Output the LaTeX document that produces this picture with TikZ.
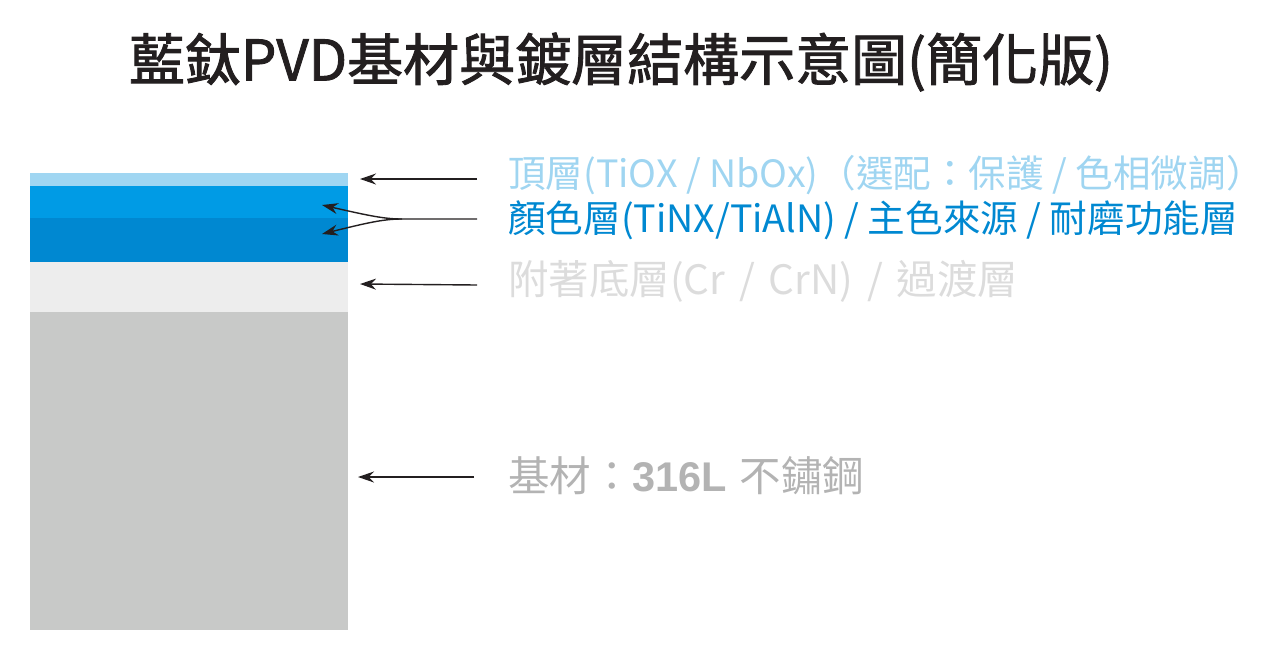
\documentclass[tikz,border=0pt]{standalone}
\usepackage{fontspec}
\newfontfamily\cjk{Noto Sans CJK TC}
\newfontfamily\cjkt[FakeBold=1.6]{Noto Sans CJK TC}
\newfontfamily\arl{Liberation Sans}
\usetikzlibrary{arrows.meta}
\definecolor{ink}{HTML}{231F20}
\definecolor{ltopc}{HTML}{A0D6F2}
\definecolor{lcolA}{HTML}{009BE5}
\definecolor{lcolB}{HTML}{0088D1}
\definecolor{ladh}{HTML}{EDEDED}
\definecolor{lsub}{HTML}{C8C9C8}
\definecolor{ttop}{HTML}{9FD5F1}
\definecolor{tcol}{HTML}{0088D1}
\definecolor{tadh}{HTML}{DCDCDC}
\definecolor{tsub}{HTML}{B3B3B3}
\begin{document}
\begin{tikzpicture}[x=1pt,y=-1pt,
  layer/.style={draw=none,inner sep=0pt,outer sep=0pt,anchor=north west},
  lbl/.style={anchor=west,inner sep=0pt},
  arr/.style={draw=ink,line width=1.4pt,-{Stealth[length=16pt,width=11pt]}}]
\useasboundingbox (0,0) rectangle (1274,665);
% title
\node[font=\cjkt\fontsize{56}{60}\selectfont,text=ink] (title) at (621,62) {藍鈦PVD基材與鍍層結構示意圖(簡化版)};
% layers
\node[layer,fill=lsub,minimum width=318pt,minimum height=318pt] (sub) at (30,312) {};
\node[layer,fill=ladh,minimum width=318pt,minimum height=50pt] (adh) at (30,262) {};
\node[layer,fill=lcolB,minimum width=318pt,minimum height=44pt] (colB) at (30,218) {};
\node[layer,fill=lcolA,minimum width=318pt,minimum height=32pt] (colA) at (30,186) {};
\node[layer,fill=ltopc,minimum width=318pt,minimum height=13pt] (top) at (30,173) {};
% labels
\node[lbl,text=ttop,font=\cjk\fontsize{37.6}{42}\selectfont] (ltop) at (508,175) {頂層(TiOX / NbOx)（選配：保護 / 色相微調）};
\node[lbl,text=tcol,font=\cjk\fontsize{37.6}{42}\selectfont] (lcol) at (508,220) {顏色層(TiNX/TiAlN) / 主色來源 / 耐磨功能層};
\node[lbl,text=tadh,font=\cjk\fontsize{40.5}{44}\selectfont] (ladhn) at (508,281) {附著底層(Cr\hspace{0.34em}/\hspace{0.34em}CrN)\hspace{0.34em}/\hspace{0.34em}過渡層};
\node[lbl,text=tsub,font=\cjk\fontsize{41.5}{45}\selectfont] (lsubn) at (508,476) {基材：{\arl\bfseries 316L}\hspace{0.3em}不鏽鋼};
% arrow anchors
\coordinate (s1) at (477,179);
\coordinate (e1) at (360,179);
\coordinate (s2) at (477,219);
\coordinate (m2) at (402,219);
\coordinate (e2a) at (322,205);
\coordinate (e2b) at (322,234);
\coordinate (s3) at (477,285);
\coordinate (e3) at (360,284);
\coordinate (s4) at (474,477);
\coordinate (e4) at (358,477);
\draw[arr] (s1) -- (e1);
\draw[arr] (s2) -- (m2) .. controls (385,219) and (370,216) .. (e2a);
\draw[arr] (m2) .. controls (385,219) and (370,222) .. (e2b);
\draw[arr] (s3) -- (e3);
\draw[arr] (s4) -- (e4);
\end{tikzpicture}
\end{document}
